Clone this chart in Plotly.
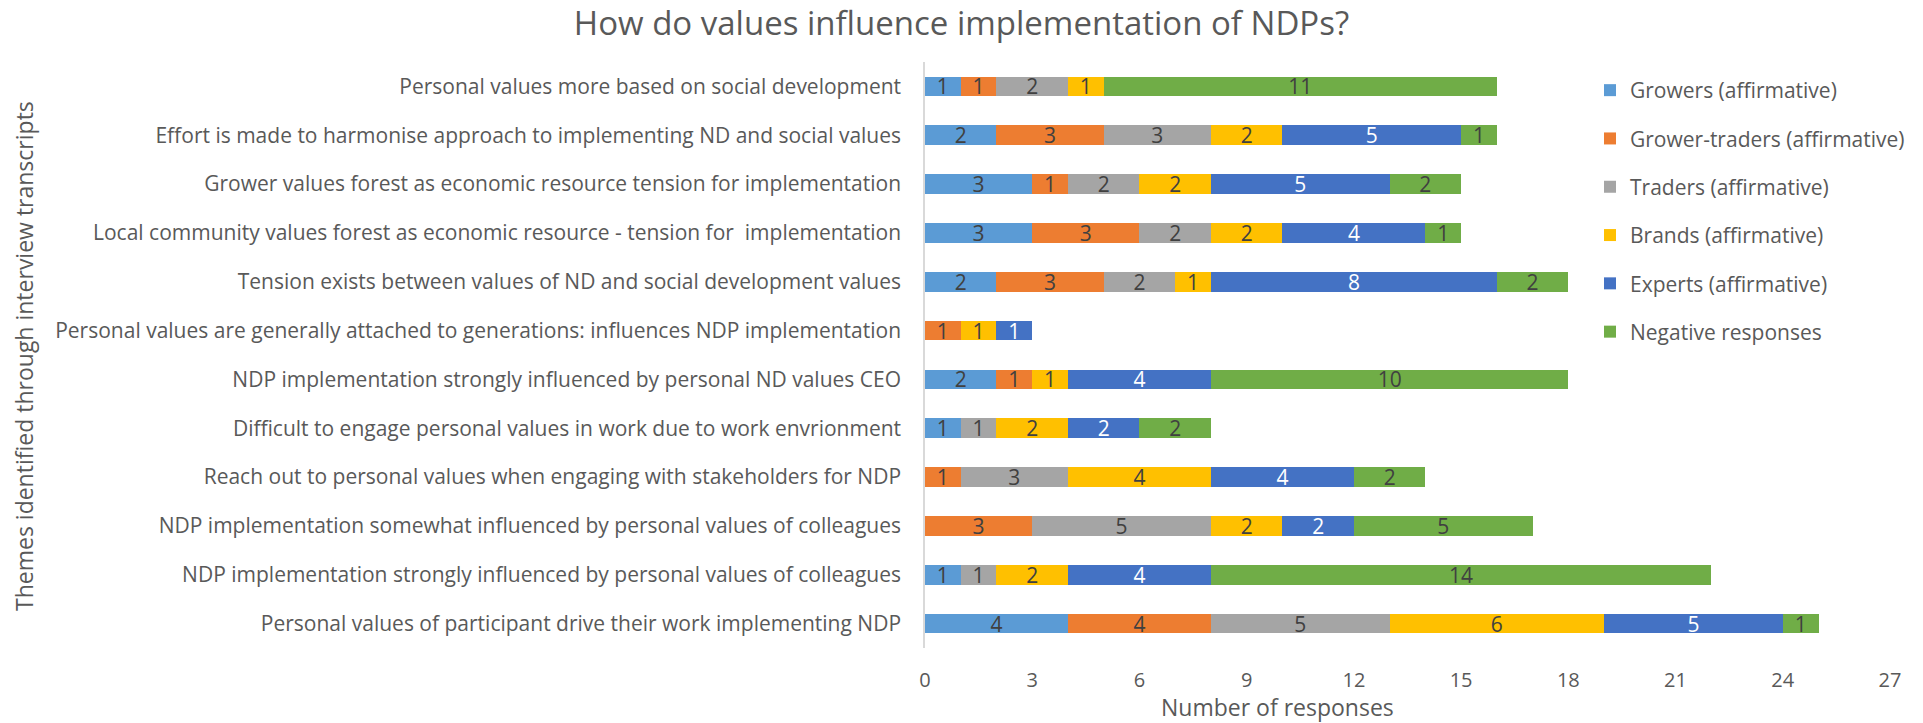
import plotly.graph_objects as go

categories = [
    "Personal values more based on social development",
    "Effort is made to harmonise approach to implementing ND and social values",
    "Grower values forest as economic resource tension for implementation",
    "Local community values forest as economic resource - tension for  implementation",
    "Tension exists between values of ND and social development values",
    "Personal values are generally attached to generations: influences NDP implementation",
    "NDP implementation strongly influenced by personal ND values CEO",
    "Difficult to engage personal values in work due to work envrionment",
    "Reach out to personal values when engaging with stakeholders for NDP",
    "NDP implementation somewhat influenced by personal values of colleagues",
    "NDP implementation strongly influenced by personal values of colleagues",
    "Personal values of participant drive their work implementing NDP",
]

growers        = [1, 2, 3, 3, 2, 0, 2, 1, 0, 0, 1, 4]
grower_traders = [1, 3, 1, 3, 3, 1, 1, 0, 1, 3, 0, 4]
traders        = [2, 3, 2, 2, 2, 0, 0, 1, 3, 5, 1, 5]
brands         = [1, 2, 2, 2, 1, 1, 1, 2, 4, 2, 2, 6]
experts        = [0, 5, 5, 4, 8, 1, 4, 2, 4, 2, 4, 5]
negative       = [11, 1, 2, 1, 2, 0, 10, 2, 2, 5, 14, 1]

series_names = [
    "Growers (affirmative)",
    "Grower-traders (affirmative)",
    "Traders (affirmative)",
    "Brands (affirmative)",
    "Experts (affirmative)",
    "Negative responses",
]
series_values = [growers, grower_traders, traders, brands, experts, negative]
series_colors = ["#5B9BD5", "#ED7D31", "#A5A5A5", "#FFC000", "#4472C4", "#70AD47"]
label_colors = ["#404040", "#404040", "#404040", "#404040", "#FFFFFF", "#404040"]

x_ticks = [0, 3, 6, 9, 12, 15, 18, 21, 24, 27]

W, H = 1923, 723
L, R, T, B = 925, 33, 62, 75
pw = W - L - R
ph = H - T - B

fig = go.Figure()
for i, (name, vals, col, lc) in enumerate(zip(series_names, series_values, series_colors, label_colors)):
    fig.add_trace(go.Bar(
        y=categories, x=vals, name=name, orientation="h",
        marker=dict(color=col, line=dict(width=0)),
        text=[str(v) if v else "" for v in vals],
        textposition="inside", insidetextanchor="middle", textangle=0,
        constraintext="none",
        textfont=dict(family="Open Sans", size=21, color=lc),
        legendgroup=f"g{i}",
    ))

fig.update_layout(
    width=W, height=H,
    barmode="stack", bargap=0.6,
    paper_bgcolor="white", plot_bgcolor="white",
    margin=dict(l=L, r=R, t=T, b=B, autoexpand=False),
    title=dict(text="How do values influence implementation of NDPs?",
               x=0.5, xanchor="center", xref="container",
               y=1 - 23 / H, yanchor="middle", yref="container",
               font=dict(family="Open Sans", size=33, color="#595959")),
    font=dict(family="Open Sans", color="#595959"),
    legend=dict(x=(1590 - L) / pw, xanchor="left", y=1 - (70 - T) / ph, yanchor="top",
                font=dict(family="Open Sans", size=21, color="#595959"),
                traceorder="grouped", tracegroupgap=18, bgcolor="rgba(0,0,0,0)"),
    showlegend=True,
)
fig.update_xaxes(range=[0, 27], tickvals=x_ticks, showgrid=False, zeroline=False,
                 showline=False, ticks="", ticklabelstandoff=18,
                 tickfont=dict(family="Open Sans", size=20, color="#595959"))
fig.update_yaxes(autorange="reversed", showgrid=False, zeroline=False,
                 showline=True, linecolor="#D9D9D9", linewidth=1.5, ticks="",
                 ticklabelstandoff=18,
                 tickfont=dict(family="Open Sans", size=21, color="#595959"))

fig.add_annotation(text="Number of responses", xref="paper", yref="paper",
                   x=(1277 - L) / pw, y=-(707 - (T + ph)) / ph, xanchor="center", yanchor="middle",
                   showarrow=False, font=dict(family="Open Sans", size=23, color="#595959"))
fig.add_annotation(text="Themes identified through interview transcripts", xref="paper", yref="paper",
                   x=(24 - L) / pw, y=1 - (356 - T) / ph, xanchor="center", yanchor="middle",
                   textangle=-90, showarrow=False,
                   font=dict(family="Open Sans", size=23, color="#595959"))

fig.write_html("out.html", config={"displayModeBar": False},
               post_script="document.body.style.margin='0';")
